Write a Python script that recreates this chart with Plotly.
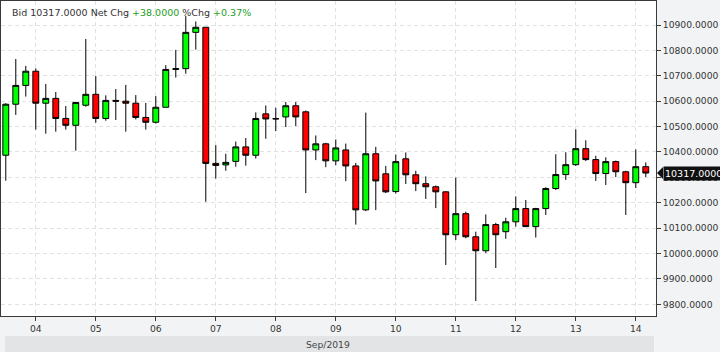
import plotly.graph_objects as go
import pandas as pd

# 4-hour bars, Sep 3 12:00 .. Sep 14 04:00 (2019)
times = pd.date_range("2019-09-03 12:00", periods=65, freq="4h")

opens = [10387, 10588, 10662, 10718, 10592, 10611, 10532, 10505, 10584, 10627,
         10532, 10603, 10600, 10592, 10536, 10517, 10576, 10725, 10728, 10871,
         10891, 10355, 10349, 10363, 10420, 10387, 10550, 10530, 10538, 10582,
         10558, 10408, 10432, 10365, 10408, 10345, 10172, 10393, 10314, 10244,
         10373, 10310, 10275, 10263, 10243, 10074, 10157, 10066, 10011, 10114,
         10086, 10125, 10177, 10106, 10177, 10256, 10311, 10350, 10413, 10370,
         10315, 10362, 10322, 10279, 10342]
highs = [10592, 10766, 10739, 10729, 10668, 10636, 10581, 10597, 10845, 10699,
         10623, 10648, 10664, 10624, 10593, 10620, 10742, 10802, 10935, 10914,
         10892, 10427, 10393, 10441, 10455, 10556, 10583, 10574, 10597, 10597,
         10563, 10465, 10436, 10449, 10433, 10357, 10555, 10420, 10345, 10390,
         10398, 10326, 10304, 10268, 10245, 10299, 10165, 10086, 10154, 10121,
         10141, 10225, 10211, 10180, 10261, 10391, 10399, 10489, 10446, 10385,
         10379, 10366, 10326, 10410, 10359]
lows = [10287, 10546, 10618, 10488, 10472, 10480, 10488, 10405, 10578, 10515,
        10523, 10526, 10480, 10528, 10488, 10512, 10576, 10693, 10708, 10803,
        10204, 10295, 10326, 10342, 10346, 10374, 10452, 10482, 10498, 10502,
        10238, 10368, 10340, 10348, 10285, 10114, 10167, 10171, 10238, 10236,
        10274, 10246, 10215, 10179, 9955, 10053, 10060, 9813, 10002, 9943,
        10058, 10106, 10104, 10063, 10152, 10250, 10290, 10345, 10364, 10286,
        10270, 10301, 10152, 10258, 10301]
closes = [10588, 10662, 10718, 10592, 10611, 10532, 10505, 10595, 10627, 10532,
          10603, 10600, 10592, 10536, 10517, 10576, 10725, 10728, 10871, 10891,
          10355, 10347, 10359, 10420, 10387, 10532, 10530, 10531, 10582, 10538,
          10408, 10432, 10365, 10416, 10345, 10172, 10393, 10286, 10243, 10362,
          10310, 10275, 10263, 10243, 10074, 10157, 10066, 10011, 10114, 10074,
          10125, 10177, 10106, 10177, 10256, 10311, 10350, 10413, 10370, 10315,
          10362, 10322, 10279, 10342, 10317]

y_ticks = [9800, 9900, 10000, 10100, 10200, 10300, 10400, 10500, 10600, 10700, 10800, 10900]
y_tick_text = [f"{v:.4f}" for v in y_ticks]

last = closes[-1]
day_open = opens[-2]
net = last - day_open
pct = net / day_open * 100

FONT = "DejaVu Sans"
TXT = "#333333"
GRID = "#e2e2e2"
BORDER = "#3a3a3a"

fig = go.Figure()
fig.add_trace(go.Candlestick(
    x=times, open=opens, high=highs, low=lows, close=closes,
    increasing=dict(fillcolor="#00ff00", line=dict(color="#000000", width=1)),
    decreasing=dict(fillcolor="#ff0000", line=dict(color="#000000", width=1)),
    whiskerwidth=0, hoverinfo="skip", showlegend=False,
))

fig.update_layout(
    width=720, height=352,
    margin=dict(l=1, r=64, t=1, b=36),
    paper_bgcolor="#f2f3f5",
    plot_bgcolor="#ffffff",
    boxgap=0.16,
    showlegend=False,
    xaxis=dict(
        type="date",
        range=["2019-09-03 10:05", "2019-09-14 08:05"],
        tick0="2019-09-04", dtick=86400000, tickformat="%d",
        ticks="outside", ticklen=4, tickcolor=BORDER,
        showline=True, linecolor=BORDER, linewidth=1, mirror=True,
        showgrid=True, gridcolor=GRID, griddash="4px,3px", gridwidth=1,
        tickfont=dict(family=FONT, size=9.2, color=TXT),
        rangeslider=dict(visible=False),
        fixedrange=True,
    ),
    yaxis=dict(
        side="right",
        range=[9754, 10994.5],
        tickvals=y_ticks, ticktext=y_tick_text,
        ticks="outside", ticklen=4, tickcolor=BORDER,
        showline=True, linecolor=BORDER, linewidth=1, mirror=True,
        showgrid=True, gridcolor=GRID, griddash="4px,3px", gridwidth=1,
        zeroline=False,
        tickfont=dict(family=FONT, size=9.2, color=TXT),
        fixedrange=True,
    ),
    shapes=[
        dict(type="rect", xref="paper", yref="paper",
             x0=0.0061, x1=0.997, y0=-0.0635, y1=-0.1143,
             fillcolor="#e3e4e6", line=dict(width=0), layer="below"),
        dict(type="path", xref="paper", xsizemode="pixel", xanchor=1,
             yref="y", ysizemode="pixel", yanchor=last,
             path="M 1,0 L 7,6 L 7,-6 Z",
             fillcolor="#111111", line=dict(width=0)),
    ],
    annotations=[
        dict(xref="paper", yref="paper", x=0, y=1, xanchor="left", yanchor="top",
             xshift=9, yshift=-4, showarrow=False,
             text=(f"Bid {last:.4f} Net Chg <span style='color:#1e9e1e'>+{net:.4f}</span>"
                   f" %Chg <span style='color:#1e9e1e'>+{pct:.2f}%</span>"),
             font=dict(family=FONT, size=9.5, color=TXT)),
        dict(xref="paper", yref="paper", x=0.4985, y=-0.0889, xanchor="center", yanchor="middle",
             showarrow=False, text="Sep/2019",
             font=dict(family=FONT, size=9.2, color="#444444")),
        dict(xref="paper", yref="y", x=1, y=last, xanchor="left", yanchor="middle",
             xshift=7, showarrow=False, text=f"{last:.4f}",
             bgcolor="#111111", borderpad=1,
             font=dict(family=FONT, size=9.5, color="#ffffff")),
    ],
)

fig.write_html("out.html")
